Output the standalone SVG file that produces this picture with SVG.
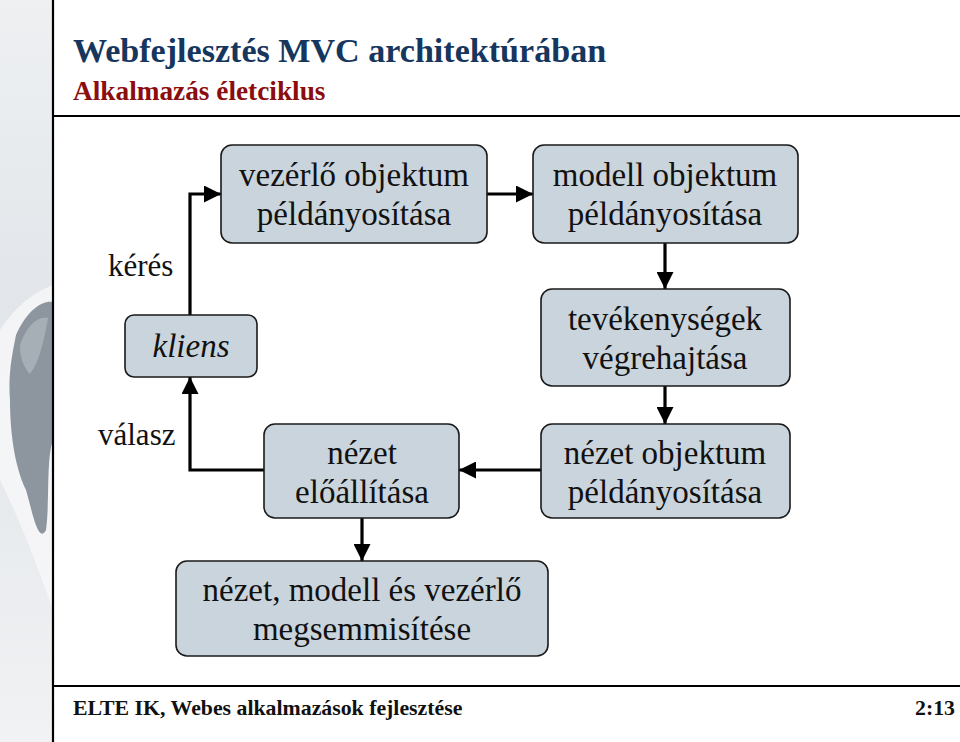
<svg xmlns="http://www.w3.org/2000/svg" width="960" height="742" viewBox="0 0 960 742">
<style>
.box{fill:#c9d4dc;stroke:#1a1a1a;stroke-width:1.6}
.t{font-size:33px;fill:#111;text-anchor:middle}
.lbl{font-size:31px;fill:#111}
.c{fill:none;stroke:#000;stroke-width:3.2;marker-end:url(#ah)}
</style>
<defs>
<marker id="ah" markerUnits="userSpaceOnUse" markerWidth="17" markerHeight="17" refX="17" refY="8.5" orient="auto">
<path d="M0,0 L17,8.5 L0,17 z" fill="#000"/>
</marker>
<linearGradient id="strip" x1="0" y1="0" x2="0" y2="1">
<stop offset="0" stop-color="#eef0f2"/>
<stop offset="0.4" stop-color="#e2e6ea"/>
<stop offset="0.7" stop-color="#e8ebee"/>
<stop offset="1" stop-color="#f1f2f4"/>
</linearGradient>
</defs>
<rect width="960" height="742" fill="#fff"/>
<g id="decoration">
<rect x="0" y="0" width="53" height="742" fill="url(#strip)"/>
<path d="M0,330 C20,300 40,290 53,285 L53,610 C35,560 20,520 0,480 z" fill="#f7f8f9" opacity="0.8"/>
<path d="M16,335 C28,308 44,300 53,302 L53,440 C46,460 50,500 46,530 C38,545 32,510 26,490 C14,465 10,430 10,400 C8,375 12,355 16,335 z" fill="#8d969e"/>
<path d="M20,345 C28,322 40,316 48,318 C44,340 40,360 30,374 C24,368 20,358 20,345 z" fill="#a7afb6"/>
</g>
<g id="frame" stroke="#000">
<line x1="53" y1="0" x2="53" y2="742" stroke-width="2.2"/>
<line x1="53" y1="116" x2="960" y2="116" stroke-width="2.2"/>
<line x1="53" y1="686" x2="960" y2="686" stroke-width="2.2"/>
</g>
<g id="header">
<text x="73" y="62" font-family="Liberation Serif, serif" font-weight="bold" font-size="34.1" fill="#17365d">Webfejlesztés MVC architektúrában</text>
<text x="73" y="100" font-family="Liberation Serif, serif" font-weight="bold" font-size="27.3" fill="#8b0d0d">Alkalmazás életciklus</text>
</g>
<g id="connectors">
<path class="c" d="M190,315 L190,194 L221,194"/>
<path class="c" d="M487,194 L533,194"/>
<path class="c" d="M665,243 L665,289"/>
<path class="c" d="M665,386 L665,424"/>
<path class="c" d="M541,470 L459,470"/>
<path class="c" d="M264,470 L190,470 L190,377"/>
<path class="c" d="M362,518 L362,561"/>
</g>
<g id="label-keres"><text class="lbl" font-family="Liberation Serif, serif" x="108" y="276">kérés</text></g>
<g id="label-valasz"><text class="lbl" font-family="Liberation Serif, serif" x="98" y="445">válasz</text></g>
<g id="node-vezerlo">
<rect class="box" x="221" y="145" width="266" height="98" rx="11"/>
<text class="t" font-family="Liberation Serif, serif" x="354" y="186">vezérlő objektum</text>
<text class="t" font-family="Liberation Serif, serif" x="354" y="225">példányosítása</text>
</g>
<g id="node-modell">
<rect class="box" x="533" y="145" width="265" height="98" rx="11"/>
<text class="t" font-family="Liberation Serif, serif" x="665" y="186">modell objektum</text>
<text class="t" font-family="Liberation Serif, serif" x="665" y="225">példányosítása</text>
</g>
<g id="node-tevekenysegek">
<rect class="box" x="541" y="289" width="249" height="97" rx="11"/>
<text class="t" font-family="Liberation Serif, serif" x="665" y="330">tevékenységek</text>
<text class="t" font-family="Liberation Serif, serif" x="665" y="369">végrehajtása</text>
</g>
<g id="node-kliens">
<rect class="box" x="125" y="315" width="132" height="62" rx="9"/>
<text class="t" font-family="Liberation Serif, serif" x="191" y="357" font-style="italic">kliens</text>
</g>
<g id="node-nezet-eloallitasa">
<rect class="box" x="264" y="424" width="195" height="94" rx="11"/>
<text class="t" font-family="Liberation Serif, serif" x="362" y="464">nézet</text>
<text class="t" font-family="Liberation Serif, serif" x="362" y="503">előállítása</text>
</g>
<g id="node-nezet-objektum">
<rect class="box" x="541" y="424" width="249" height="94" rx="11"/>
<text class="t" font-family="Liberation Serif, serif" x="665" y="464">nézet objektum</text>
<text class="t" font-family="Liberation Serif, serif" x="665" y="503">példányosítása</text>
</g>
<g id="node-megsemmisites">
<rect class="box" x="176" y="561" width="372" height="95" rx="11"/>
<text class="t" font-family="Liberation Serif, serif" x="362" y="601">nézet, modell és vezérlő</text>
<text class="t" font-family="Liberation Serif, serif" x="362" y="640">megsemmisítése</text>
</g>
<g id="footer">
<text x="73" y="715" font-family="Liberation Serif, serif" font-weight="bold" font-size="21.8" fill="#111">ELTE IK, Webes alkalmazások fejlesztése</text>
<text x="955" y="715" font-family="Liberation Serif, serif" font-weight="bold" font-size="21.8" fill="#111" text-anchor="end">2:13</text>
</g>
</svg>
